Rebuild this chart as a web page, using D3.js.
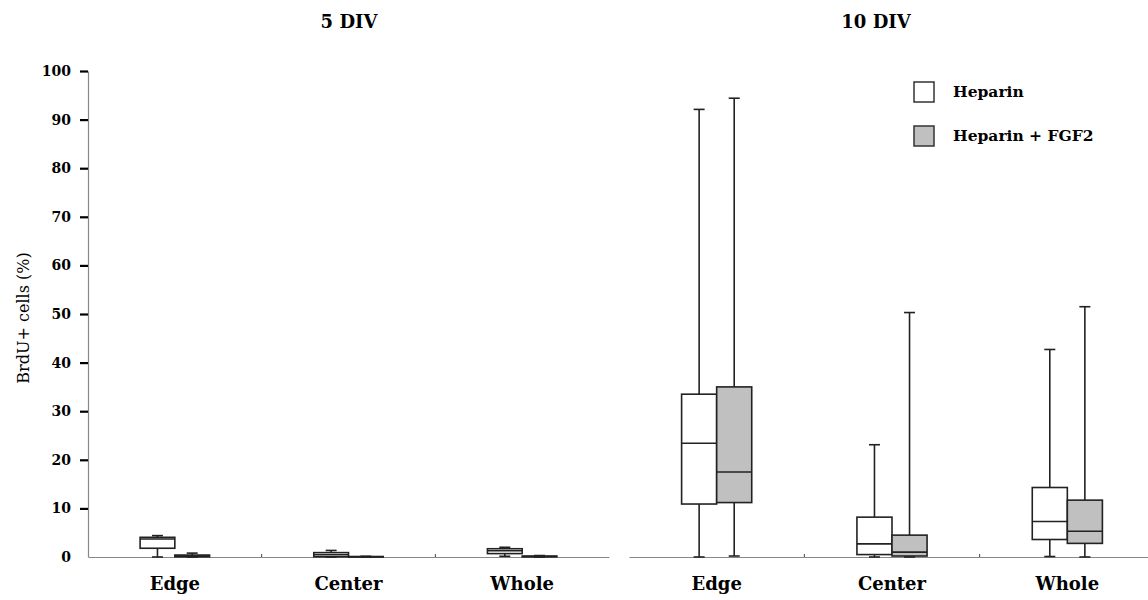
<!DOCTYPE html>
<html>
<head>
<meta charset="utf-8">
<script src="https://cdn.jsdelivr.net/npm/d3@7"></script>
<style>
  body { margin: 0; background: #fff; }
  svg { display: block; }
</style>
</head>
<body>
<svg width="1148" height="600"></svg>
<script>
// Chart data: box stats per region as [min, q1, median, q3, max]
const panels = ['5 DIV', '10 DIV'];
const regions = ['Edge', 'Center', 'Whole'];
const treatments = ['Heparin', 'Heparin + FGF2'];
const yTicks = [0, 10, 20, 30, 40, 50, 60, 70, 80, 90, 100];

const heparin5 = [[0, 1.8, 3.7, 4.05, 4.4], [0, 0.05, 0.45, 0.9, 1.35], [0.15, 0.7, 1.3, 1.7, 2.0]];
const fgf5 = [[0, 0.05, 0.2, 0.4, 0.8], [0, 0, 0.05, 0.1, 0.15], [0, 0.05, 0.1, 0.2, 0.3]];
const heparin10 = [[0, 10.9, 23.4, 33.5, 92.1], [0, 0.5, 2.7, 8.2, 23.1], [0.1, 3.6, 7.3, 14.3, 42.7]];
const fgf10 = [[0.2, 11.2, 17.5, 35, 94.4], [0, 0.2, 1.0, 4.5, 50.3], [0, 2.8, 5.3, 11.7, 51.5]];

const panelData = [[heparin5, fgf5], [heparin10, fgf10]];
const fills = ['#ffffff', '#c0c0c0'];

const svg = d3.select('svg');
const serif = '"DejaVu Serif", "Liberation Serif", serif';

const y = d3.scaleLinear().domain([0, 100]).range([557, 71]);
const panelRanges = [[88, 609], [629, 1155]];
const titleX = [349, 876];

panels.forEach((name, p) => {
  const x = d3.scaleBand().domain(regions).range(panelRanges[p]);
  const bw = x.bandwidth();
  const sub = d3.scaleBand().domain(treatments).range([bw * 0.3, bw * 0.7]);
  const boxW = sub.bandwidth();
  const g = svg.append('g');

  // title
  svg.append('text')
    .attr('x', titleX[p]).attr('y', 28)
    .attr('text-anchor', 'middle')
    .style('font-family', serif).style('font-weight', 'bold').style('font-size', '18px')
    .text(name);

  // x axis
  const xAxis = g.append('g')
    .attr('transform', `translate(0, ${y(0)})`)
    .call(d3.axisBottom(x).tickSize(0).tickSizeOuter(0).tickPadding(20));
  xAxis.select('.domain').attr('stroke', '#888').attr('stroke-width', 1.2);
  xAxis.selectAll('text')
    .style('font-family', serif).style('font-weight', 'bold').style('font-size', '18px')
    .attr('fill', '#000');

  // small divider ticks between regions
  g.selectAll('.divider')
    .data(regions.slice(1))
    .enter().append('line')
    .attr('x1', d => x(d)).attr('x2', d => x(d))
    .attr('y1', y(0)).attr('y2', y(0) - 3)
    .attr('stroke', '#444').attr('stroke-width', 1);

  // boxes
  treatments.forEach((t, ti) => {
    const stats = panelData[p][ti];
    stats.forEach((s, ri) => {
      const left = x(regions[ri]) + sub(t);
      const cx = left + boxW / 2;
      const [mn, q1, md, q3, mx] = s;
      const bg = g.append('g').attr('stroke', '#222').attr('stroke-width', 1.6);

      // whiskers
      bg.append('line').attr('x1', cx).attr('x2', cx).attr('y1', y(q3)).attr('y2', y(mx));
      bg.append('line').attr('x1', cx).attr('x2', cx).attr('y1', y(q1)).attr('y2', y(mn));
      bg.append('line').attr('x1', cx - 5.5).attr('x2', cx + 5.5).attr('y1', y(mx)).attr('y2', y(mx));
      bg.append('line').attr('x1', cx - 5.5).attr('x2', cx + 5.5).attr('y1', y(mn)).attr('y2', y(mn));

      // box
      bg.append('rect')
        .attr('x', left).attr('width', boxW)
        .attr('y', y(q3)).attr('height', Math.max(y(q1) - y(q3), 0.5))
        .attr('fill', fills[ti]);

      // median
      bg.append('line').attr('x1', left).attr('x2', left + boxW).attr('y1', y(md)).attr('y2', y(md));
    });
  });

  // y axis only on first panel
  if (p === 0) {
    const yAxis = svg.append('g')
      .attr('transform', `translate(${panelRanges[0][0]}, 0)`)
      .call(d3.axisLeft(y).tickValues(yTicks).tickSize(8).tickSizeOuter(0).tickPadding(9));
    yAxis.select('.domain').attr('stroke', '#888').attr('stroke-width', 1.2);
    yAxis.selectAll('.tick line').attr('stroke', '#000').attr('stroke-width', 2.2)
      .filter(d => d === 0).remove();
    yAxis.selectAll('text')
      .style('font-family', serif).style('font-weight', 'bold').style('font-size', '14px')
      .attr('fill', '#000');
  }
});

// y label
svg.append('text')
  .attr('transform', 'translate(29, 318) rotate(-90)')
  .attr('text-anchor', 'middle')
  .style('font-family', serif).style('font-size', '16px')
  .text('BrdU+ cells (%)');

// legend
const legend = svg.append('g').attr('transform', 'translate(914, 82)');
treatments.forEach((t, i) => {
  const row = legend.append('g').attr('transform', `translate(0, ${i * 44})`);
  row.append('rect')
    .attr('width', 20).attr('height', 20)
    .attr('fill', fills[i]).attr('stroke', '#333').attr('stroke-width', 1.5);
  row.append('text')
    .attr('x', 39).attr('y', 15)
    .style('font-family', serif).style('font-weight', 'bold').style('font-size', '15.5px')
    .text(t);
});
</script>
</body>
</html>
